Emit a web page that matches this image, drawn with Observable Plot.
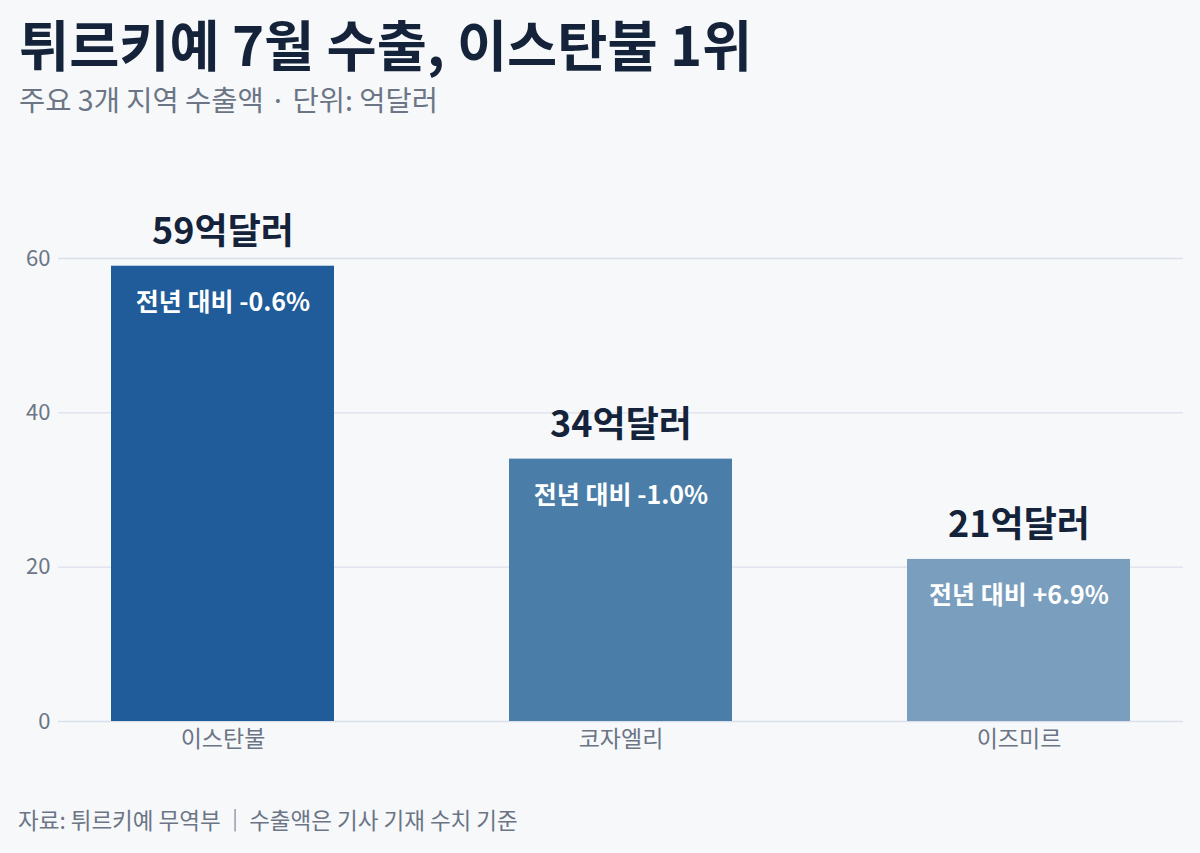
<!DOCTYPE html>
<html>
<head>
<meta charset="utf-8">
<script src="https://cdn.jsdelivr.net/npm/d3@7"></script>
<script src="https://cdn.jsdelivr.net/npm/@observablehq/plot@0.6"></script>
<style>
  html, body { margin: 0; padding: 0; background: #f6f8fa; }
  body { width: 1200px; height: 853px; overflow: hidden; position: relative; font-family: "Noto Sans CJK KR", "Noto Sans", sans-serif; }
  #header { height: 150px; position: relative; }
  #title { position: absolute; left: 19px; top: 16px; font-size: 54.5px; line-height: 1; font-weight: 700; color: #14233a; margin: 0; white-space: nowrap; }
  #subtitle { position: absolute; left: 19px; top: 85px; font-size: 28.5px; line-height: 1; color: #6b7585; margin: 0; white-space: nowrap; }
  #chart { height: 630px; }
  #footer { position: absolute; left: 18px; top: 808px; font-size: 22.5px; line-height: 1; color: #6b7585; white-space: nowrap; }
  .sep { margin: 0 3px; }
</style>
</head>
<body>
<div id="header">
  <div id="title">튀르키예 7월 수출, 이스탄불 1위</div>
  <div id="subtitle">주요 3개 지역 수출액 · 단위: 억달러</div>
</div>
<div id="chart"></div>
<div id="footer">자료: 튀르키예 무역부<span class="sep">｜</span>수출액은 기사 기재 수치 기준</div>
<script>
const regions = ["이스탄불", "코자엘리", "이즈미르"];
const exportsBn = [59, 34, 21];
const yoyChange = ["-0.6%", "-1.0%", "+6.9%"];
const barColors = ["#1f5c99", "#4a7ea8", "#7a9ebd"];
const yTicks = [0, 20, 40, 60];

const data = regions.map((r, i) => ({
  region: r,
  value: exportsBn[i],
  valueLabel: exportsBn[i] + "억달러",
  yoyLabel: "전년 대비 " + yoyChange[i],
  color: barColors[i]
}));

const chart = Plot.plot({
  width: 1200,
  height: 630,
  marginLeft: 58,
  marginRight: 17,
  marginTop: 108,
  marginBottom: 59,
  style: { background: "transparent", fontFamily: "'Noto Sans CJK KR', sans-serif" },
  x: { domain: regions, paddingInner: 0.44, paddingOuter: 0.13, label: null },
  y: { domain: [0, 60], ticks: yTicks, label: null },
  marks: [
    Plot.gridY(yTicks, { stroke: "#dbdfe9", strokeOpacity: 1, strokeWidth: 1.3 }),
    Plot.axisY(yTicks, { tickSize: 0, tickPadding: 8, fontSize: 22, fill: "#6b7585", label: null }),
    Plot.axisX({ tickSize: 0, tickPadding: 9, fontSize: 23, fill: "#6b7585", label: null }),
    Plot.barY(data, { x: "region", y: "value", fill: "color" }),
    Plot.text(data, { x: "region", y: "value", text: "valueLabel", dy: -34, fontSize: 36, fontWeight: 700, fill: "#14233a" }),
    Plot.text(data, { x: "region", y: "value", text: "yoyLabel", dy: 37, fontSize: 25, fontWeight: 700, fill: "#ffffff" })
  ]
});
document.getElementById("chart").appendChild(chart);
</script>
</body>
</html>
